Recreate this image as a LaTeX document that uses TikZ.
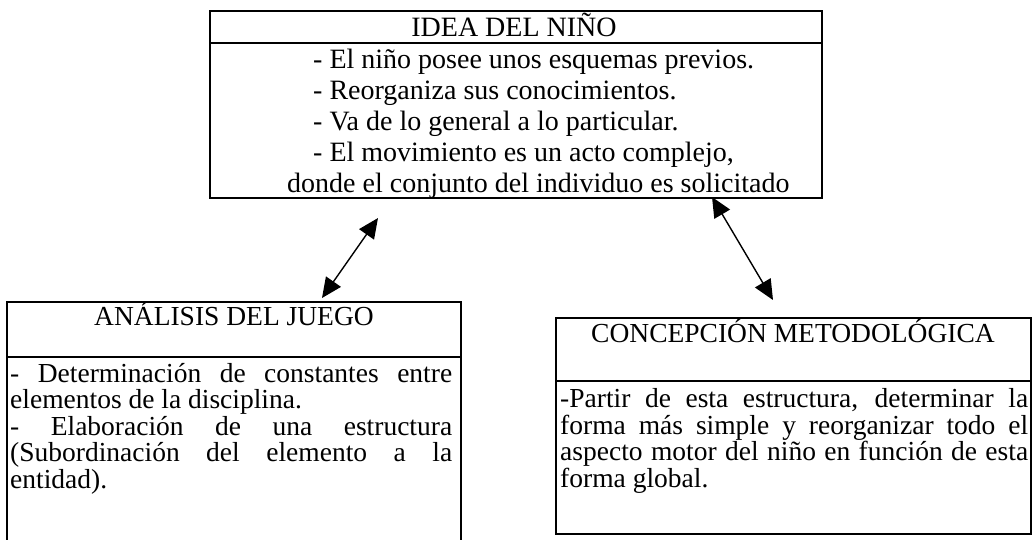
\documentclass[tikz,border=0pt]{standalone}
\usepackage{fontspec}
\setmainfont{Liberation Serif}
\usetikzlibrary{arrows.meta}
\begin{document}
\begin{tikzpicture}[x=1pt,y=-1pt,
  frame/.style={draw=black,line width=1.2pt},
  topfont/.style={font=\fontsize{28}{31}\selectfont},
  lowfont/.style={font=\fontsize{27.5}{30}\selectfont},
  ln/.style={inner sep=0pt,anchor=base west},
  ttl/.style={inner sep=0pt,anchor=base},
  twoway/.style={line width=1.4pt,{Triangle[length=20pt,width=18pt]}-{Triangle[length=20pt,width=18pt]}}]
\useasboundingbox (0,0) rectangle (1033,539);
% ---- top box
\draw[frame] (210,11) rectangle (822,198);
\draw[frame] (210,43) -- (822,43);
\node[ttl,topfont] (ideaT) at (514,36) {IDEA DEL NIÑO};
\node[ln,topfont] (idea1) at (313,68) {- El niño posee unos esquemas previos.};
\node[ln,topfont] (idea2) at (313,99) {- Reorganiza sus conocimientos.};
\node[ln,topfont] (idea3) at (313,130) {- Va de lo general a lo particular.};
\node[ln,topfont] (idea4) at (313,161) {- El movimiento es un acto complejo,};
\node[ln,topfont] (idea5) at (287,192) {donde el conjunto del individuo es solicitado};
% ---- left box
\draw[frame] (7,540) -- (7,302) -- (461,302) -- (461,540);
\draw[frame] (7,357) -- (461,357);
\node[ttl,lowfont] (juegoT) at (234,325) {ANÁLISIS DEL JUEGO};
\node[ln,lowfont] (juego1) at (10,382) {\makebox[442pt][s]{- Determinación de constantes entre}};
\node[ln,lowfont] (juego2) at (10,408.5) {elementos de la disciplina.};
\node[ln,lowfont] (juego3) at (10,435) {\makebox[442pt][s]{- Elaboración de una estructura}};
\node[ln,lowfont] (juego4) at (10,461.5) {\makebox[442pt][s]{(Subordinación del elemento a la}};
\node[ln,lowfont] (juego5) at (10,488) {entidad).};
% ---- right box
\draw[frame] (556,318) rectangle (1031,534);
\draw[frame] (556,381) -- (1031,381);
\node[ttl,lowfont] (metT) at (793,342) {CONCEPCIÓN METODOLÓGICA};
\node[ln,lowfont] (met1) at (560,407.5) {\makebox[468pt][s]{-Partir de esta estructura, determinar la}};
\node[ln,lowfont] (met2) at (560,434) {\makebox[468pt][s]{forma más simple y reorganizar todo el}};
\node[ln,lowfont] (met3) at (560,460.5) {\makebox[468pt][s]{aspecto motor del niño en función de esta}};
\node[ln,lowfont] (met4) at (560,487) {forma global.};
% ---- connectors
\coordinate (a1) at (322,298);
\coordinate (a2) at (378,218);
\coordinate (b1) at (712,197);
\coordinate (b2) at (773,300);
\draw[twoway] (a1) -- (a2);
\draw[twoway] (b1) -- (b2);
\end{tikzpicture}
\end{document}
